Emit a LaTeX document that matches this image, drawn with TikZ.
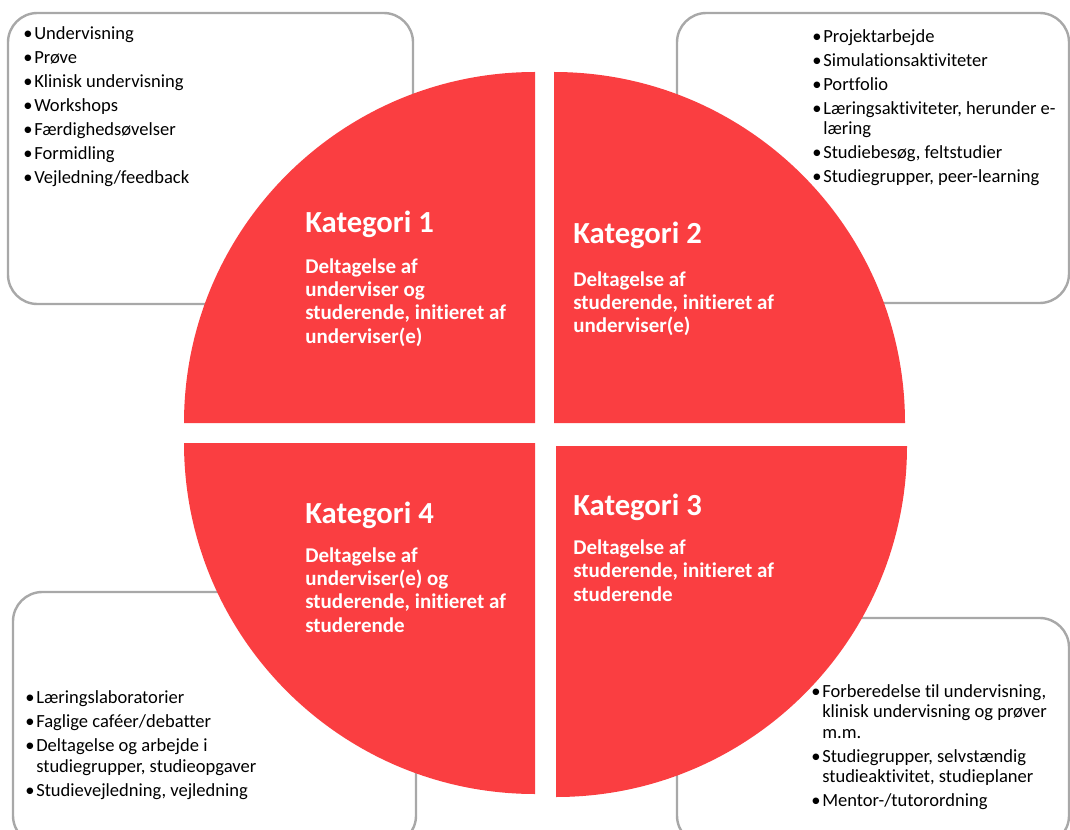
\documentclass[tikz,border=0pt]{standalone}
\usepackage{fontspec}
\setmainfont{Carlito}[Ligatures={NoCommon}]
\usepackage{xcolor}

\definecolor{katred}{RGB}{250,62,65}
\definecolor{boxgray}{RGB}{168,168,168}

\newcommand{\bul}{\makebox[8.25pt][l]{•}}
\newcommand{\cont}{\hspace*{8.25pt}}

\begin{document}
\begin{tikzpicture}[x=0.75pt, y=-0.75pt,
        kat/.style={fill=katred, draw=none},
        listbox/.style={draw=boxgray, line width=1.8pt, rounded corners=22pt, fill=white},
        kathead/.style={anchor=base west, inner sep=0pt, text=white, font=\fontsize{23}{27}\selectfont\bfseries},
        katsub/.style={anchor=base west, inner sep=0pt, text=white, align=left, font=\fontsize{15.75}{17.5}\selectfont\bfseries},
        itemlist/.style={anchor=base west, inner sep=0pt, align=left, font=\fontsize{13.9}{15.4}\selectfont}]
            \useasboundingbox (0,0) rectangle (1070,830);
            \clip (0,0) rectangle (1070,830);

            % boxes behind the circle
            \draw[listbox] (8,13) rectangle (413,304);
            \draw[listbox] (677,13) rectangle (1069,303);
            \draw[listbox] (13,592) rectangle (416,845);
            \draw[listbox] (677,618) rectangle (1069,845);

            % four quarters
            \fill[kat] (535,423) -- (184,423) arc[start angle=180, end angle=90, radius=263.25pt] -- cycle;
            \fill[kat] (554,423) -- (554,72) arc[start angle=90, end angle=0, radius=263.25pt] -- cycle;
            \fill[kat] (556,446) -- (907,446) arc[start angle=0, end angle=-90, radius=263.25pt] -- cycle;
            \fill[kat] (535,443) -- (535,794) arc[start angle=270, end angle=180, radius=263.25pt] -- cycle;

            % multi-line nodes sit on the baseline of their last line
            \node[kathead] (kat1) at (305,233) {Kategori 1};
            \node[katsub] (sub1) at (305,343.3) {Deltagelse af\\underviser og\\studerende, initieret af\\underviser(e)};

            \node[kathead] (kat2) at (573,244) {Kategori 2};
            \node[katsub] (sub2) at (573,333) {Deltagelse af\\studerende, initieret af\\underviser(e)};

            \node[kathead] (kat3) at (573,515) {Kategori 3};
            \node[katsub] (sub3) at (573,601) {Deltagelse af\\studerende, initieret af\\studerende};

            \node[kathead] (kat4) at (305,523) {Kategori 4};
            \node[katsub] (sub4) at (305,632) {Deltagelse af\\underviser(e) og\\studerende, initieret af\\studerende};

            % bullet lists
            \node[itemlist] (list1) at (23,184) {\bul Undervisning\\[2.6pt]\bul Prøve\\[2.6pt]\bul Klinisk undervisning\\[2.6pt]\bul Workshops\\[2.6pt]\bul Færdighedsøvelser\\[2.6pt]\bul Formidling\\[2.6pt]\bul Vejledning/feedback};
            \node[itemlist] (list2) at (812,182.7) {\bul Projektarbejde\\[2.6pt]\bul Simulationsaktiviteter\\[2.6pt]\bul Portfolio\\[2.6pt]\bul Læringsaktiviteter, herunder e-\\\cont læring\\[2.6pt]\bul Studiebesøg, feltstudier\\[2.6pt]\bul Studiegrupper, peer-learning};
            \node[itemlist] (list3) at (25,796) {\bul Læringslaboratorier\\[2.6pt]\bul Faglige caféer/debatter\\[2.6pt]\bul Deltagelse og arbejde i\\\cont studiegrupper, studieopgaver\\[2.6pt]\bul Studievejledning, vejledning};
            \node[itemlist] (list4) at (811,806.7) {\bul Forberedelse til undervisning,\\\cont klinisk undervisning og prøver\\\cont m.m.\\[2.6pt]\bul Studiegrupper, selvstændig\\\cont studieaktivitet, studieplaner\\[2.6pt]\bul Mentor-/tutorordning};
        \end{tikzpicture}
\end{document}
